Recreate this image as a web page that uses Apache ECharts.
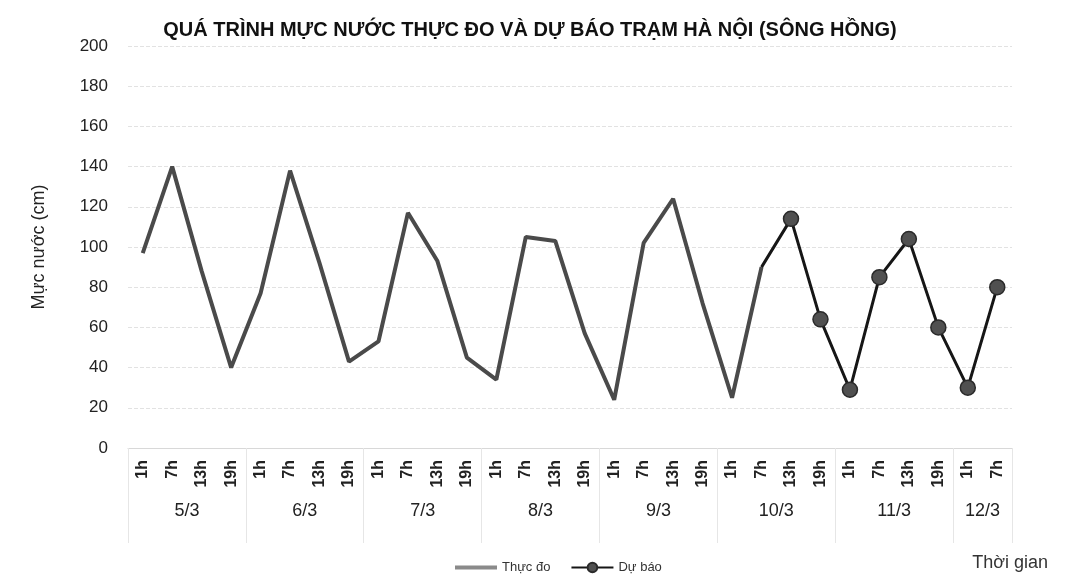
<!DOCTYPE html>
<html>
<head>
<meta charset="utf-8">
<script src="https://cdn.jsdelivr.net/npm/echarts@6/dist/echarts.min.js"></script>
<style>html,body{margin:0;padding:0;background:#fff;}#c{width:1069px;height:580px;}</style>
</head>
<body>
<div id="c"></div>
<script>
const hours = ['1h','7h','13h','19h','1h','7h','13h','19h','1h','7h','13h','19h','1h','7h','13h','19h','1h','7h','13h','19h','1h','7h','13h','19h','1h','7h','13h','19h','1h','7h'];
const dates = ['5/3','6/3','7/3','8/3','9/3','10/3','11/3','12/3'];
const observed = [97,140,88,40,77,138,92,43,53,117,93,45,34,105,103,57,24,102,124,72,25,90,null,null,null,null,null,null,null,null];
const forecast = [null,null,null,null,null,null,null,null,null,null,null,null,null,null,null,null,null,null,null,null,null,90,114,64,29,85,104,60,30,80];
const yTicks = [0,20,40,60,80,100,120,140,160,180,200];

// day group boundaries derived from hour labels (new day at each '1h')
const bounds = [];
hours.forEach((h,i)=>{ if(h==='1h') bounds.push(i); });
bounds.push(hours.length);
const centers = [];
for(let i=0;i<bounds.length-1;i++) centers.push((bounds[i]+bounds[i+1])/2);

const font = 'Liberation Sans, sans-serif';
const fd = forecast.map((v,i)=> (v!==null && (i===0||forecast[i-1]===null)) ? {value:v, symbol:'none'} : v);

const chart = echarts.init(document.getElementById('c'));
chart.setOption({
  animation:false,
  backgroundColor:'#fff',
  title:[
    {text:'QUÁ TRÌNH MỰC NƯỚC THỰC ĐO VÀ DỰ BÁO TRẠM HÀ NỘI (SÔNG HỒNG)', left:525, textAlign:'center', top:15,
     textStyle:{fontFamily:font,fontWeight:'bold',fontSize:20,color:'#111'}},
    {text:'Thời gian', right:16, top:549, textStyle:{fontFamily:font,fontWeight:'normal',fontSize:18,color:'#333'}}
  ],
  legend:{left:450, top:556, itemWidth:42, itemHeight:12, itemGap:20,
    textStyle:{fontFamily:font,fontSize:13,color:'#333'},
    data:[{name:'Thực đo', icon:'path://M0,0H42V4H0Z', itemStyle:{color:'#8a8a8a'}},'Dự báo']},
  grid:{left:128, right:57, top:46, bottom:132},
  xAxis:[
    {type:'category', data:hours, boundaryGap:true,
     axisLine:{lineStyle:{color:'#d8d8d8'}}, axisTick:{show:false},
     axisLabel:{rotate:90, interval:0, margin:12, fontFamily:font, fontSize:16, fontWeight:'bold', color:'#222'}},
    {type:'value', min:0, max:hours.length, position:'bottom',
     axisLine:{show:false}, splitLine:{show:false},
     axisTick:{show:true, customValues:bounds, length:95, lineStyle:{color:'#e6e6e6'}},
     axisLabel:{customValues:centers, margin:54, fontFamily:font, fontSize:18, color:'#222',
       formatter:(v)=>{const k=centers.indexOf(v);return k>=0?dates[k]:'';}}}
  ],
  yAxis:{type:'value', min:yTicks[0], max:yTicks[yTicks.length-1], interval:yTicks[1]-yTicks[0],
    name:'Mực nước (cm)', nameLocation:'middle', nameGap:80,
    nameTextStyle:{fontFamily:font,fontSize:18,color:'#222'},
    axisLine:{show:false}, axisTick:{show:false},
    axisLabel:{margin:20, fontFamily:font, fontSize:17, color:'#222'},
    splitLine:{lineStyle:{color:'#e2e2e2', type:'dashed'}}},
  series:[
    {name:'Thực đo', type:'line', data:observed, symbol:'none', connectNulls:false,
     lineStyle:{color:'#4a4a4a', width:4}, itemStyle:{color:'#8a8a8a'}, z:2},
    {name:'Dự báo', type:'line', data:fd, symbol:'circle', symbolSize:15,
     showAllSymbol:true,
     lineStyle:{color:'#161616', width:3}, itemStyle:{color:'#505050', borderColor:'#2a2a2a', borderWidth:1.5}, z:3}
  ]
});
</script>
</body>
</html>
